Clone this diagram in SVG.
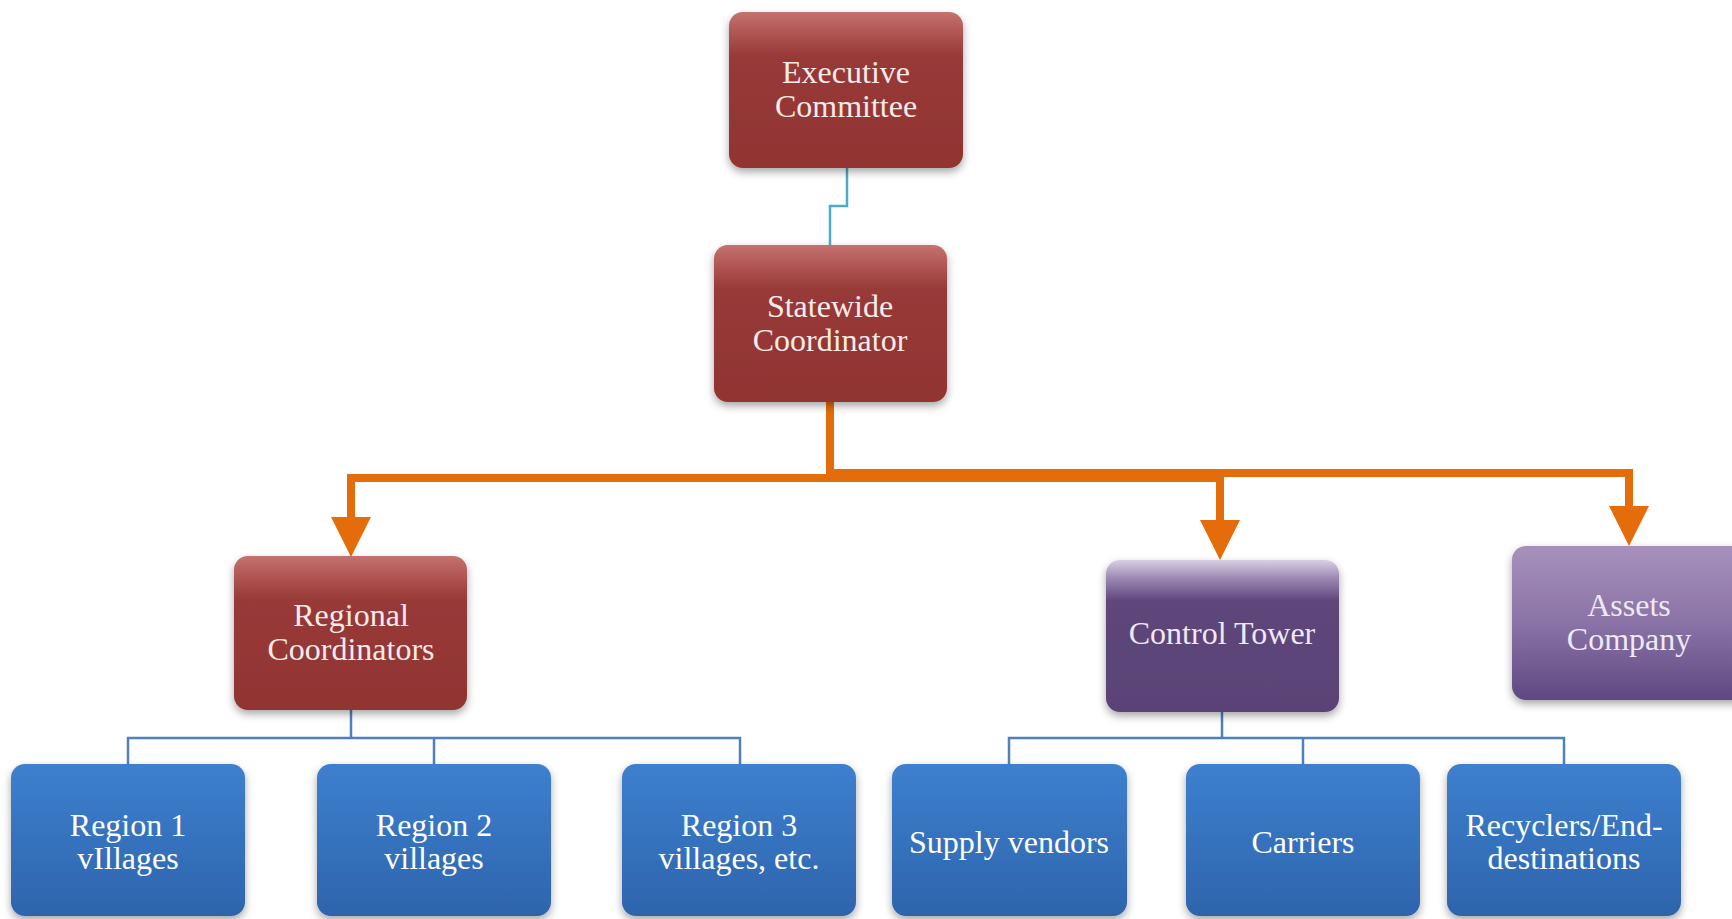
<svg xmlns="http://www.w3.org/2000/svg" width="1732" height="919" viewBox="0 0 1732 919">
<style>
.lbl{font-family:"Liberation Serif","Times New Roman",serif;font-size:32px;text-anchor:middle}
.lr{fill:#f7ebea}
.lp{fill:#efe8f6}
.lb{fill:#ffffff}
.orange{fill:none;stroke:#e46c0a;stroke-width:8;stroke-linejoin:miter;stroke-linecap:butt}
.thin{fill:none;stroke:#4f81bd;stroke-width:2.5}
.teal{fill:none;stroke:#4bacc6;stroke-width:2.5}
</style>
<defs>
<linearGradient id="gRed" x1="0" y1="0" x2="0" y2="1">
<stop offset="0" stop-color="#c47270"/>
<stop offset="0.12" stop-color="#b35856"/>
<stop offset="0.28" stop-color="#983a38"/>
<stop offset="1" stop-color="#913432"/>
</linearGradient>
<linearGradient id="gCT" x1="0" y1="0" x2="0" y2="1">
<stop offset="0" stop-color="#d9d0e4"/>
<stop offset="0.12" stop-color="#9c88b3"/>
<stop offset="0.27" stop-color="#5e467b"/>
<stop offset="1" stop-color="#5a4376"/>
</linearGradient>
<linearGradient id="gAs" x1="0" y1="0" x2="0" y2="1">
<stop offset="0" stop-color="#a791bc"/>
<stop offset="0.5" stop-color="#8a73a6"/>
<stop offset="1" stop-color="#5e4881"/>
</linearGradient>
<linearGradient id="gBl" x1="0" y1="0" x2="0" y2="1">
<stop offset="0" stop-color="#3d80cf"/>
<stop offset="1" stop-color="#2e64ac"/>
</linearGradient>
<filter id="sh" x="-10%" y="-10%" width="120%" height="130%">
<feDropShadow dx="0" dy="4" stdDeviation="4" flood-color="#000" flood-opacity="0.35"/>
</filter>
<marker id="arr" markerUnits="userSpaceOnUse" markerWidth="40" markerHeight="40" viewBox="0 0 40 40" refX="0" refY="20" orient="auto">
<polygon points="0,0 40,20 0,40" fill="#e46c0a"/>
</marker>
</defs>
<rect width="1732" height="919" fill="#ffffff"/>

<g id="connectors">
<path class="teal" d="M847,168 V206 H830 V245"/>
<path class="orange" d="M830,402 V478 H351 V517" marker-end="url(#arr)"/>
<path class="orange" d="M830,402 V478 H1220 V520" marker-end="url(#arr)"/>
<path class="orange" d="M830,402 V473 H1629 V506" marker-end="url(#arr)"/>
<path class="thin" d="M351,710 V738"/>
<path class="thin" d="M128,764 V738 H740 V764"/>
<path class="thin" d="M434,738 V764"/>
<path class="thin" d="M1222,712 V738"/>
<path class="thin" d="M1009,764 V738 H1564 V764"/>
<path class="thin" d="M1303,738 V764"/>
</g>

<g id="executive-committee">
<rect x="729" y="12" width="234" height="156" rx="14" fill="url(#gRed)" filter="url(#sh)"/>
<text class="lbl lr" x="846" y="83">Executive</text>
<text class="lbl lr" x="846" y="117">Committee</text>
</g>
<g id="statewide-coordinator">
<rect x="714" y="245" width="233" height="157" rx="14" fill="url(#gRed)" filter="url(#sh)"/>
<text class="lbl lr" x="830" y="317">Statewide</text>
<text class="lbl lr" x="830" y="351">Coordinator</text>
</g>
<g id="regional-coordinators">
<rect x="234" y="556" width="233" height="154" rx="14" fill="url(#gRed)" filter="url(#sh)"/>
<text class="lbl lr" x="351" y="626">Regional</text>
<text class="lbl lr" x="351" y="660">Coordinators</text>
</g>
<g id="control-tower">
<rect x="1106" y="560" width="233" height="152" rx="14" fill="url(#gCT)" filter="url(#sh)"/>
<text class="lbl lp" x="1222" y="644">Control Tower</text>
</g>
<g id="assets-company">
<rect x="1512" y="546" width="250" height="154" rx="14" fill="url(#gAs)" filter="url(#sh)"/>
<text class="lbl lp" x="1629" y="616">Assets</text>
<text class="lbl lp" x="1629" y="650">Company</text>
</g>
<g id="region-1">
<rect x="11" y="764" width="234" height="152" rx="14" fill="url(#gBl)" filter="url(#sh)"/>
<text class="lbl lb" x="128" y="836">Region 1</text>
<text class="lbl lb" x="128" y="869">vIllages</text>
</g>
<g id="region-2">
<rect x="317" y="764" width="234" height="152" rx="14" fill="url(#gBl)" filter="url(#sh)"/>
<text class="lbl lb" x="434" y="836">Region 2</text>
<text class="lbl lb" x="434" y="869">villages</text>
</g>
<g id="region-3">
<rect x="622" y="764" width="234" height="152" rx="14" fill="url(#gBl)" filter="url(#sh)"/>
<text class="lbl lb" x="739" y="836">Region 3</text>
<text class="lbl lb" x="739" y="869">villages, etc.</text>
</g>
<g id="supply-vendors">
<rect x="892" y="764" width="235" height="152" rx="14" fill="url(#gBl)" filter="url(#sh)"/>
<text class="lbl lb" x="1009" y="853">Supply vendors</text>
</g>
<g id="carriers">
<rect x="1186" y="764" width="234" height="152" rx="14" fill="url(#gBl)" filter="url(#sh)"/>
<text class="lbl lb" x="1303" y="853">Carriers</text>
</g>
<g id="recyclers">
<rect x="1447" y="764" width="234" height="152" rx="14" fill="url(#gBl)" filter="url(#sh)"/>
<text class="lbl lb" x="1564" y="836">Recyclers/End-</text>
<text class="lbl lb" x="1564" y="869">destinations</text>
</g>
</svg>
